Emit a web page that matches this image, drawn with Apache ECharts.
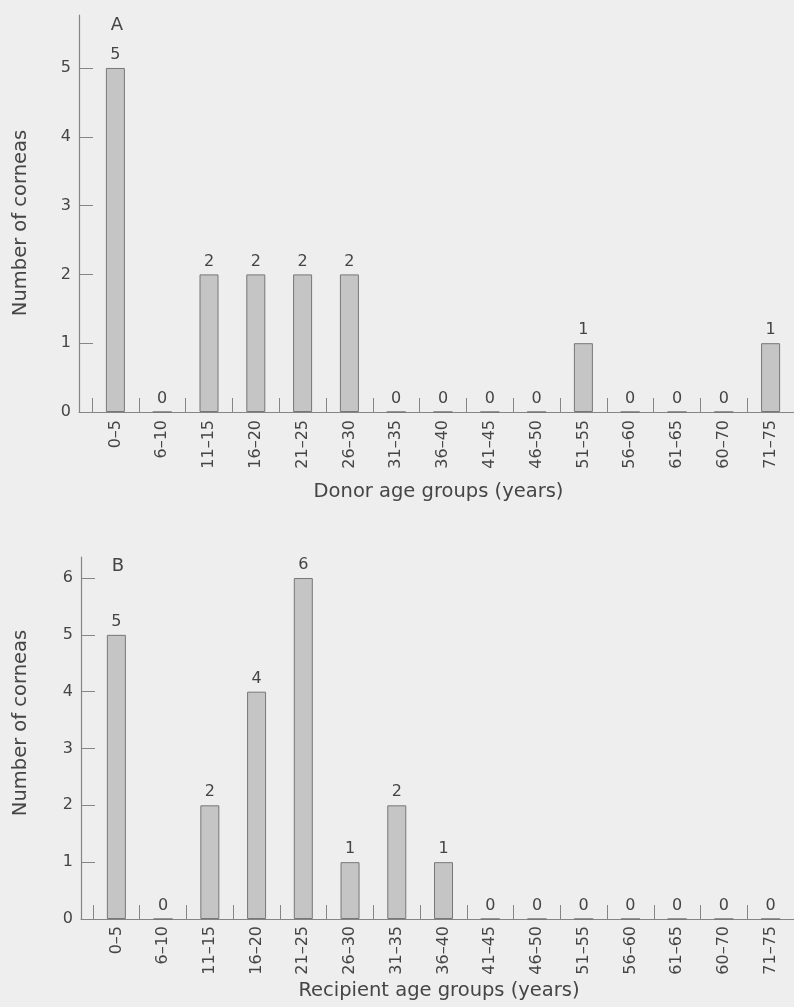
<!DOCTYPE html>
<html>
<head>
<meta charset="utf-8">
<script src="https://cdn.jsdelivr.net/npm/echarts@6/dist/echarts.min.js"></script>
<style>
html,body{margin:0;padding:0;background:#eeeeee;}
#chart{width:794px;height:1007px;}
</style>
</head>
<body>
<div id="chart"></div>
<script>
const categories = ['0–5','6–10','11–15','16–20','21–25','26–30','31–35','36–40','41–45','46–50','51–55','56–60','61–65','60–70','71–75'];
const donorCounts = [5,0,2,2,2,2,0,0,0,0,1,0,0,0,1];
const recipientCounts = [5,0,2,4,6,1,2,1,0,0,0,0,0,0,0];
const donorTicks = [0,1,2,3,4,5];
const recipientTicks = [0,1,2,3,4,5,6];
const panelLabels = ['A','B'];
const xTitles = ['Donor age groups (years)','Recipient age groups (years)'];
const yTitle = 'Number of corneas';

const FONT = 'DejaVu Sans';
const TXT = '#454545';
const AX = '#858585';

const chart = echarts.init(document.getElementById('chart'), null, {renderer:'canvas'});

function catAxis(gi, name, gap, labelMargin){
  return {
    type:'category', gridIndex:gi, data:categories, boundaryGap:true,
    axisLine:{show:true, lineStyle:{color:AX, width:1.2}},
    axisTick:{show:true, inside:true, length:14, alignWithLabel:false, lineStyle:{color:AX, width:1}},
    axisLabel:{rotate:90, margin:labelMargin, fontFamily:FONT, fontSize:16, color:TXT, interval:0},
    name:name, nameLocation:'middle', nameGap:gap,
    nameTextStyle:{fontFamily:FONT, fontSize:19.5, color:TXT, padding:[0,9,0,0]}
  };
}
function valAxis(gi, max, ticks, offset){
  return {
    type:'value', gridIndex:gi, min:0, max:max, offset:offset,
    axisLine:{show:true, lineStyle:{color:AX, width:1.2}},
    axisTick:{show:true, inside:true, length:14, customValues:ticks, lineStyle:{color:AX, width:1}},
    axisLabel:{show:true, margin:8, customValues:ticks, fontFamily:FONT, fontSize:16, color:TXT},
    splitLine:{show:false}
  };
}
function stubX(gi){
  return {type:'value', gridIndex:gi, min:0, max:1,
    axisLine:{show:true, lineStyle:{color:AX, width:1.2}},
    axisTick:{show:false}, axisLabel:{show:false}, splitLine:{show:false}};
}
function stubY(gi){
  return {type:'value', gridIndex:gi, min:0, max:1, show:false};
}
function barSeries(xi, yi, data){
  return {
    type:'bar', xAxisIndex:xi, yAxisIndex:yi, data:data, barWidth:19,
    itemStyle:{color:'#c5c5c5', borderColor:'#777777', borderWidth:1},
    label:{show:true, position:'top', distance:5, fontFamily:FONT, fontSize:16, color:TXT},
    silent:true, animation:false
  };
}

const option = {
  backgroundColor:'#eeeeee',
  animation:false,
  grid:[
    {left:92, top:15, width:705, height:397},
    {left:93, top:557, width:705, height:362},
    {left:79, top:15, width:13, height:397},
    {left:81, top:557, width:12, height:362}
  ],
  xAxis:[
    catAxis(0, xTitles[0], 70, 8),
    catAxis(1, xTitles[1], 62, 7),
    stubX(2), stubX(3)
  ],
  yAxis:[
    valAxis(0, 5.77, donorTicks, 13),
    valAxis(1, 6.37, recipientTicks, 12),
    stubY(2), stubY(3)
  ],
  series:[
    barSeries(0,0,donorCounts),
    barSeries(1,1,recipientCounts)
  ],
  graphic:[
    {type:'text', x:117, y:25, style:{text:panelLabels[0], font:'18px "DejaVu Sans"', fill:TXT, textAlign:'center', textVerticalAlign:'middle'}},
    {type:'text', x:118, y:566, style:{text:panelLabels[1], font:'18px "DejaVu Sans"', fill:TXT, textAlign:'center', textVerticalAlign:'middle'}},
    {type:'text', x:21, y:223, rotation:Math.PI/2, style:{text:yTitle, font:'19.5px "DejaVu Sans"', fill:TXT, textAlign:'center', textVerticalAlign:'middle'}},
    {type:'text', x:21, y:723, rotation:Math.PI/2, style:{text:yTitle, font:'19.5px "DejaVu Sans"', fill:TXT, textAlign:'center', textVerticalAlign:'middle'}}
  ]
};
chart.setOption(option);
</script>
</body>
</html>
